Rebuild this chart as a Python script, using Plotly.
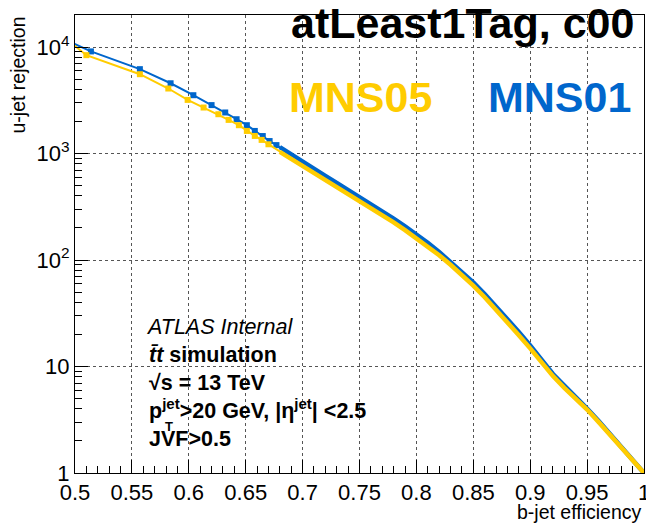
import plotly.graph_objects as go

# b-tagging performance: light-jet rejection vs b-jet efficiency
# Sparse high-purity working points (drawn with markers)
eff_sparse_mns01 = [0.490, 0.514, 0.557, 0.584, 0.604, 0.620, 0.632, 0.642, 0.651, 0.658, 0.665, 0.671, 0.677]
rej_sparse_mns01 = [11900, 9100, 6200, 4570, 3530, 2850, 2430, 2100, 1845, 1630, 1460, 1310, 1200]

eff_sparse_mns05 = [0.490, 0.510, 0.557, 0.582, 0.599, 0.613, 0.626, 0.635, 0.644, 0.651, 0.658, 0.664, 0.670]
rej_sparse_mns05 = [12500, 8390, 5560, 4080, 3190, 2705, 2340, 2070, 1845, 1630, 1463, 1343, 1222]

# Densely sampled part of the curves
eff_dense = [0.68, 0.69, 0.70, 0.71, 0.72, 0.73, 0.74, 0.75, 0.76, 0.77, 0.78, 0.79,
             0.80, 0.81, 0.82, 0.83, 0.84, 0.85, 0.86, 0.87, 0.88, 0.89, 0.90, 0.91,
             0.92, 0.93, 0.94, 0.95, 0.96, 0.97, 0.98, 0.99, 1.00]
rej_dense_mns01 = [1148, 977, 832, 716, 617, 531, 457, 394, 339, 288, 245, 207,
                   174, 145, 119, 96.6, 77.6, 61.7, 47.9, 36.7, 28.2, 21.1, 15.8, 11.7,
                   8.51, 6.61, 5.19, 4.03, 3.09, 2.34, 1.78, 1.33, 1.0]
rej_dense_mns05 = [1035, 891, 767, 661, 569, 490, 422, 363, 313, 266, 226, 191,
                   160, 133, 111, 90.2, 72.4, 57.5, 44.7, 34.3, 26.3, 19.7, 14.8, 11.0,
                   8.13, 6.31, 5.01, 3.94, 3.02, 2.29, 1.74, 1.32, 1.0]

x_ticks = [0.5, 0.55, 0.6, 0.65, 0.7, 0.75, 0.8, 0.85, 0.9, 0.95, 1.0]
x_ticktext = ["0.5", "0.55", "0.6", "0.65", "0.7", "0.75", "0.8", "0.85", "0.9", "0.95", "1"]
y_ticks = [1, 10, 100, 1000, 10000]
y_ticktext = ["1", "10", "10<sup>2</sup>", "10<sup>3</sup>", "10<sup>4</sup>"]

label_line = "<i>ATLAS Internal</i>"
info_lines = [
    "<b><i>t\u0304t</i> simulation</b>",
    "<b>\u221as = 13 TeV</b>",
    "<b>p<sup>jet</sup>>20 GeV, |\u03b7<sup>jet</sup>| <2.5</b>",
    "<b>JVF>0.5</b>",
]

BLUE = "#0066CC"
YELLOW = "#FFCC00"
FONT = "Liberation Sans, Arial, Helvetica, sans-serif"

fig = go.Figure()


def add_curve(eff_s, rej_s, rej_d, color):
    # thin connecting line through all points
    fig.add_trace(go.Scatter(x=eff_s + eff_dense, y=rej_s + rej_d, mode="lines",
                             line=dict(color=color, width=2), showlegend=False,
                             hoverinfo="skip"))
    # markers on the sparse points
    fig.add_trace(go.Scatter(x=eff_s, y=rej_s, mode="markers",
                             marker=dict(symbol="square", size=6, color=color),
                             showlegend=False))
    # densely packed points merge into a thick band
    fig.add_trace(go.Scatter(x=eff_dense, y=rej_d, mode="lines",
                             line=dict(color=color, width=4.5), showlegend=False))


add_curve(eff_sparse_mns01, rej_sparse_mns01, rej_dense_mns01, BLUE)
add_curve(eff_sparse_mns05, rej_sparse_mns05, rej_dense_mns05, YELLOW)

# plot-area geometry (pixels) for placing text
L, R, T, B, W, H = 75, 2, 15, 50, 646, 523
PW, PH = W - L - R, H - T - B


def px(xp):
    return (xp - L) / PW


def py(yp):
    return (H - B - yp) / PH


annotations = []


def text(s, xp, yp, size, xanchor="left", color="black"):
    annotations.append(dict(text=s, x=px(xp), y=py(yp), xref="paper", yref="paper",
                            xanchor=xanchor, yanchor="middle",
                            align="center" if xanchor == "center" else xanchor,
                            showarrow=False,
                            font=dict(family=FONT, size=size, color=color)))


text("<b>atLeast1Tag, c00</b>", 462, 23, 43, xanchor="center")
text("<b>MNS05</b>", 360, 97, 43, xanchor="center", color=YELLOW)
text("<b>MNS01</b>", 559, 97, 43, xanchor="center", color=BLUE)

# simulation / selection block
text(label_line, 144, 327, 21.5)
text("<br>".join(info_lines), 147, 397, 21.5)
text("<b>T</b>", 169, 426, 13, xanchor="center")

# axis titles, aligned to the end of each axis
text("b-jet efficiency", 644, 512, 19.5, xanchor="right")
annotations.append(dict(text="u-jet rejection", x=px(17), y=1, xref="paper", yref="paper",
                        xanchor="center", yanchor="top", showarrow=False, textangle=-90,
                        font=dict(family=FONT, size=19.5, color="black")))

y_minor = [m * 10 ** k for k in range(0, 5) for m in range(2, 10)]

fig.update_layout(
    width=W, height=H,
    margin=dict(l=L, r=R, t=T, b=B),
    paper_bgcolor="white", plot_bgcolor="white",
    font=dict(family=FONT, color="black"),
    annotations=annotations,
    showlegend=False,
    xaxis=dict(
        range=[0.5, 1.0], tickmode="array", tickvals=x_ticks, ticktext=x_ticktext,
        ticks="inside", ticklen=13, tickwidth=1, tickcolor="black",
        ticklabeloverflow="allow", automargin=False,
        showline=True, mirror=True, linecolor="black", linewidth=1,
        showgrid=True, gridcolor="#555", griddash="dot", gridwidth=1,
        zeroline=False, tickfont=dict(size=22),
        minor=dict(tick0=0.5, dtick=0.01, ticks="inside", ticklen=7,
                   tickcolor="black", showgrid=False),
    ),
    yaxis=dict(
        type="log", range=[0, 4.301], tickmode="array", tickvals=y_ticks,
        ticktext=y_ticktext,
        ticks="inside", ticklen=13, tickwidth=1, tickcolor="black",
        ticklabeloverflow="allow", automargin=False,
        showline=True, mirror=True, linecolor="black", linewidth=1,
        showgrid=True, gridcolor="#555", griddash="dot", gridwidth=1,
        zeroline=False, tickfont=dict(size=22),
        minor=dict(tickmode="array", tickvals=y_minor, ticks="inside", ticklen=7,
                   tickcolor="black", showgrid=False),
    ),
)

fig.write_html("out.html")
